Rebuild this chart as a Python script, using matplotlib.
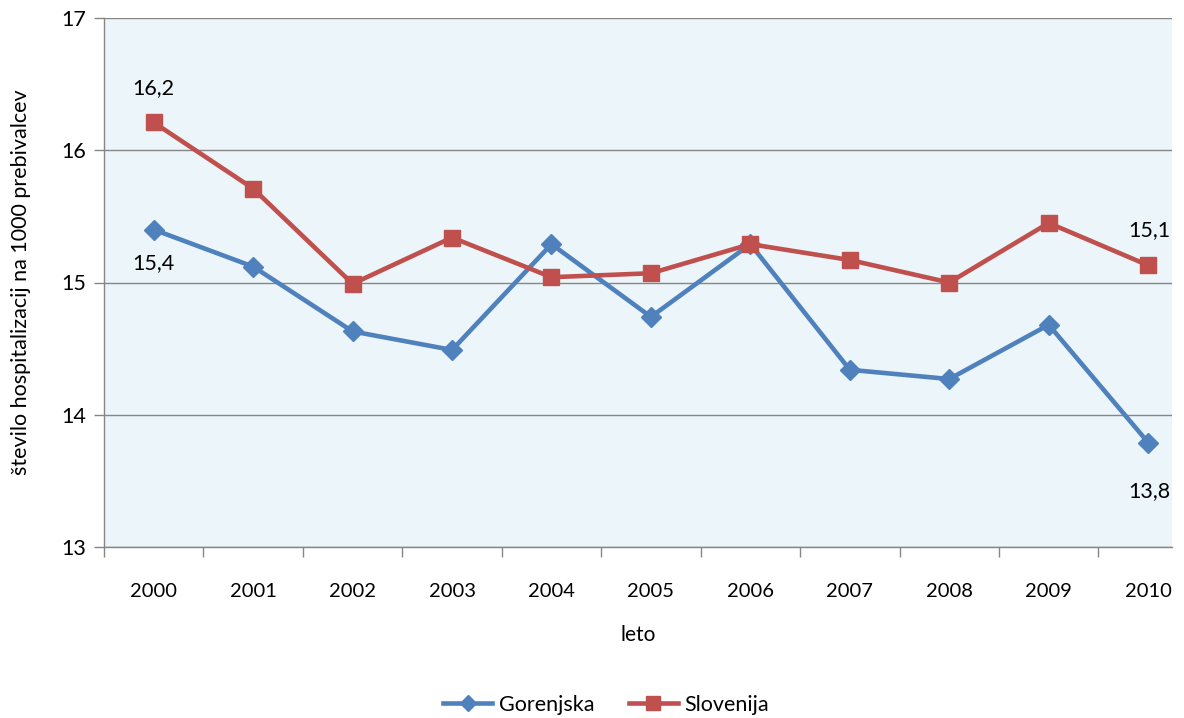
import matplotlib
matplotlib.use("Agg")
import matplotlib.pyplot as plt
from matplotlib.lines import Line2D

years = ["2000", "2001", "2002", "2003", "2004", "2005", "2006", "2007", "2008", "2009", "2010"]
gorenjska = [15.40, 15.12, 14.63, 14.49, 15.29, 14.74, 15.29, 14.34, 14.27, 14.68, 13.79]
slovenija = [16.21, 15.71, 14.99, 15.34, 15.04, 15.07, 15.29, 15.17, 15.00, 15.45, 15.13]
yticks = [13, 14, 15, 16, 17]

plt.rcParams['font.family'] = ['Lato', 'DejaVu Sans']

fig = plt.figure(figsize=(11.84, 7.18), dpi=100)
ax = fig.add_axes([104/1184, 1-547/718, (1172-104)/1184, (547-18)/718])
ax.set_facecolor('#ECF5F9')

x = list(range(len(years)))
blue = '#4F81BD'
red = '#C0504D'
ax.plot(x, gorenjska, color=blue, lw=3.3, marker='D', ms=10, zorder=3)
ax.plot(x, slovenija, color=red, lw=3.3, marker='s', ms=12, zorder=4)

ax.set_xlim(-0.5, 10.24)
ax.set_ylim(13, 17)
ax.set_yticks(yticks)
ax.set_yticklabels([str(v) for v in yticks], fontsize=15.5)
ax.set_xticks(x)
ax.set_xticklabels(years, fontsize=14.5)
ax.set_xticks([i - 0.5 for i in range(len(years))], minor=True)
ax.tick_params(axis='x', which='major', length=0, pad=26)
ax.tick_params(axis='x', which='minor', length=7, color='#868686', width=1)
ax.tick_params(axis='y', length=7, color='#868686', width=1, pad=6)
ax.grid(axis='y', color='#868686', lw=1)
ax.set_axisbelow(True)
for s in ['top', 'right']:
    ax.spines[s].set_visible(False)
for s in ['left', 'bottom']:
    ax.spines[s].set_color('#868686')
    ax.spines[s].set_linewidth(1)

ax.set_xlabel('leto', fontsize=15, labelpad=18)
ax.set_ylabel('število hospitalizacij na 1000 prebivalcev', fontsize=15.5, labelpad=22)

def fmt(v):
    return f"{v:.1f}".replace('.', ',')

kw = dict(textcoords='offset points', ha='center', va='center', fontsize=15.5)
ax.annotate(fmt(slovenija[0]), (0, slovenija[0]), xytext=(0, 24.5), **kw)
ax.annotate(fmt(gorenjska[0]), (0, gorenjska[0]), xytext=(0, -24), **kw)
ax.annotate(fmt(slovenija[-1]), (10, slovenija[-1]), xytext=(1, 25), **kw)
ax.annotate(fmt(gorenjska[-1]), (10, gorenjska[-1]), xytext=(1, -35), **kw)

handles = [Line2D([], [], color=blue, lw=3.3, marker='D', ms=8),
           Line2D([], [], color=red, lw=3.3, marker='s', ms=10)]
fig.legend(handles, ['Gorenjska', 'Slovenija'], loc='center', bbox_to_anchor=(606/1184, 1-705/718),
           ncol=2, frameon=False, fontsize=15.5,
           handlelength=2.3, columnspacing=1.6, handletextpad=0.3)

fig.savefig('out.png', dpi=100)
